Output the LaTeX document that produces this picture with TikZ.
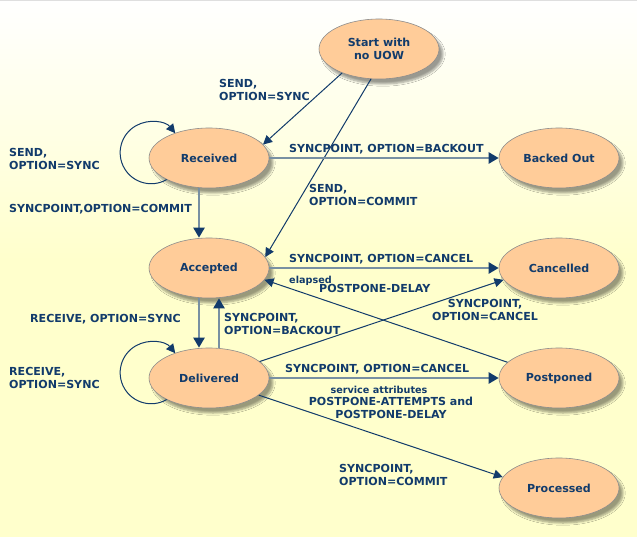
\documentclass[tikz,border=0pt]{standalone}
\usepackage{fontspec}
\setmainfont{DejaVu Sans}
\usetikzlibrary{shapes.geometric,arrows.meta,shadows.blur}
\definecolor{navy}{HTML}{123B6B}
\definecolor{peach}{HTML}{FFCC99}
\definecolor{paleyellow}{HTML}{FFFFCC}
\definecolor{slate}{HTML}{7890A2}

\begin{document}
\begin{tikzpicture}[x=1bp,y=1bp,
  state/.style={ellipse,draw=gray!90,line width=0.6bp,fill=peach,
    minimum width=120bp,minimum height=60bp,inner sep=0pt,text=navy,
    font=\fontsize{11.1}{13}\selectfont\bfseries,align=center,
    blur shadow={shadow xshift=4bp,shadow yshift=-5bp,shadow blur steps=6,shadow opacity=40}},
  main/.style={draw=slate,line width=2.2bp,-{Triangle[length=10bp,width=11bp,color=navy]}},
  link/.style={draw=navy,line width=1bp,-{Triangle[length=9bp,width=9bp]}},
  lbl/.style={text=navy,font=\fontsize{11.1}{13}\selectfont\bfseries,inner sep=0pt,align=left,anchor=north west},
  smalllbl/.style={font=\fontsize{9.7}{12}\selectfont\bfseries}]

  \useasboundingbox (0,0) rectangle (637,-537);
  \fill[paleyellow] (0,-537) rectangle (637,-259);
  \shade[top color=white,bottom color=paleyellow] (0,0) rectangle (637,-260);
  \draw[gray!25,line width=1.5bp] (0,-0.75) -- (637,-0.75);

  \node[state] (start) at (379,-49) {Start with\\no UOW};
  \node[state] (received) at (209,-158) {Received};
  \node[state] (backed) at (559,-158) {Backed Out};
  \node[state] (accepted) at (209,-268) {Accepted};
  \node[state] (cancelled) at (559,-268) {Cancelled};
  \node[state] (delivered) at (209,-378) {Delivered};
  \node[state] (postponed) at (559,-378) {Postponed};
  \node[state] (processed) at (559,-488) {Processed};

  \draw[link] (start.213) -- (received.14);
  \draw[link] (start.255) -- (accepted.11);
  \draw[link] (received.207) arc[start angle=-60,end angle=-321,radius=31];
  \draw[main] (received) -- (backed);
  \draw[main] ([xshift=-10bp]received.south) -- ([xshift=-10bp]accepted.north);
  \draw[main] (accepted) -- (cancelled);
  \draw[main] ([xshift=-10bp]accepted.south) -- ([xshift=-10bp]delivered.north);
  \draw[main] ([xshift=10bp]delivered.north) -- ([xshift=10bp]accepted.south);
  \draw[link] (postponed.163) -- (accepted.348);
  \draw[link] (delivered.18) -- (cancelled.192);
  \draw[link] (delivered.207) arc[start angle=-60,end angle=-321,radius=31];
  \draw[main] (delivered) -- (postponed);
  \draw[link] (delivered.341) -- (processed.169);

  \node[lbl] (lsend) at (219,-79) {SEND,\\OPTION=SYNC};
  \node[lbl] (lloopsend) at (9,-148) {SEND,\\OPTION=SYNC};
  \node[lbl] (lcommit) at (9,-204) {SYNCPOINT,OPTION=COMMIT};
  \node[lbl] (lbackout) at (289,-144) {SYNCPOINT, OPTION=BACKOUT};
  \node[lbl] (lsendcommit) at (309,-184) {SEND,\\OPTION=COMMIT};
  \node[lbl] (lcancel) at (289,-254) {SYNCPOINT, OPTION=CANCEL};
  \node[lbl,smalllbl] (lelapsed) at (289,-275.5) {elapsed};
  \node[lbl] (ldelay) at (319,-284) {POSTPONE-DELAY};
  \node[lbl,align=center,anchor=north] (ldelcancel) at (485,-299) {SYNCPOINT,\\OPTION=CANCEL};
  \node[lbl] (lreceive) at (30,-314) {RECEIVE, OPTION=SYNC};
  \node[lbl] (lrollback) at (224,-313) {SYNCPOINT,\\OPTION=BACKOUT};
  \node[lbl] (lloopreceive) at (9,-367) {RECEIVE,\\OPTION=SYNC};
  \node[lbl] (lpostcancel) at (285,-364) {SYNCPOINT, OPTION=CANCEL};
  \node[lbl,smalllbl,anchor=north] (lservice) at (379,-385.5) {service attributes};
  \node[lbl,align=center,anchor=north] (lattempts) at (391,-397) {POSTPONE-ATTEMPTS and\\POSTPONE-DELAY};
  \node[lbl] (lprocess) at (339,-464) {SYNCPOINT,\\OPTION=COMMIT};
\end{tikzpicture}
\end{document}
